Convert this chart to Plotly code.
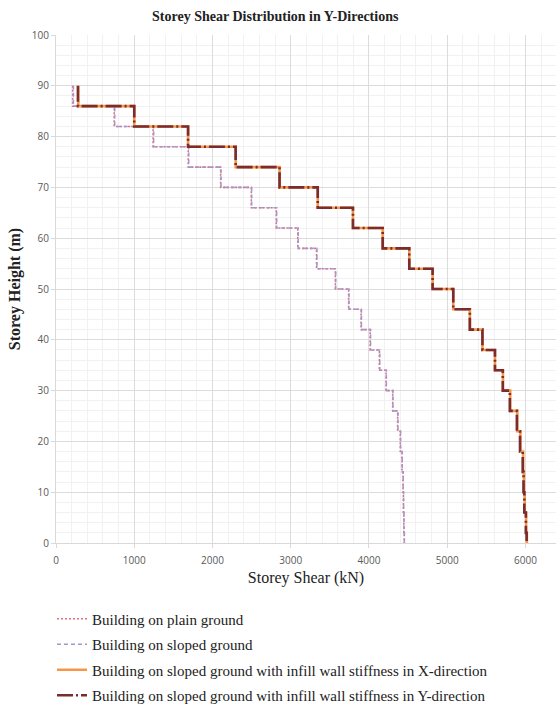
import plotly.graph_objects as go

# Storey levels (m): top of each storey interval, plus ground
storey_tops = [90, 86, 82, 78, 74, 70, 66, 62, 58, 54, 50, 46, 42, 38, 34, 30, 26, 22, 18, 14, 10, 6, 2]
ground = 0

# Storey shear (kN) for each interval, top to bottom
shear_plain = [213, 744, 1241, 1690, 2104, 2496, 2815, 3090, 3330, 3570, 3740, 3899, 4015,
               4133, 4218, 4303, 4366, 4400, 4422, 4435, 4440, 4445, 4450]
shear_sloped = [222, 750, 1248, 1696, 2108, 2500, 2820, 3095, 3334, 3574, 3744, 3903, 4020,
                4137, 4222, 4306, 4370, 4404, 4425, 4437, 4442, 4447, 4452]
shear_infill_x = [285, 1000, 1688, 2296, 2857, 3345, 3795, 4175, 4515, 4813, 5077, 5289, 5450,
                  5610, 5712, 5805, 5895, 5935, 5970, 5980, 5990, 6008, 6018]
shear_infill_y = [280, 1000, 1688, 2296, 2857, 3345, 3795, 4175, 4515, 4813, 5077, 5289, 5450,
                  5610, 5710, 5800, 5890, 5930, 5965, 5975, 5985, 6005, 6015]

x_ticks = [0, 1000, 2000, 3000, 4000, 5000, 6000]
y_ticks = [0, 10, 20, 30, 40, 50, 60, 70, 80, 90, 100]

names = [
    "Building on plain ground",
    "Building on sloped ground",
    "Building on sloped ground with infill wall stiffness in X-direction",
    "Building on sloped ground with infill wall stiffness in Y-direction",
]
series = [shear_plain, shear_sloped, shear_infill_x, shear_infill_y]
styles = [
    dict(color="#E0707C", width=1.6, dash="2px,2px"),
    dict(color="#A497CC", width=1.6, dash="4px,3px"),
    dict(color="#F79646", width=2.6, dash="solid"),
    dict(color="#7A2C2E", width=2.6, dash="16px,3px,2px,3px"),
]

fig = go.Figure()
ys = storey_tops + [ground]
for i, (nm, vals, st) in enumerate(zip(names, series, styles)):
    xs = vals + [vals[-1]]
    fig.add_trace(go.Scatter(
        x=xs, y=ys, mode="lines", name=nm, line=dict(shape="vh", **st),
        legendgroup=f"g{i}",
    ))

serif = "Liberation Serif"
sans = "Open Sans"

fig.update_layout(
    width=556, height=704,
    margin=dict(l=56, r=0, t=35, b=161, autoexpand=False),
    paper_bgcolor="white", plot_bgcolor="white",
    title=dict(text="<b>Storey Shear Distribution in Y-Directions</b>",
               x=0.495, xanchor="center", y=0.977, yanchor="middle",
               font=dict(family=serif, size=14, color="#222222")),
    showlegend=True,
    legend=dict(x=-0.008, xanchor="left", y=-0.117, yanchor="top",
                font=dict(family=serif, size=15, color="#222222"),
                tracegroupgap=3, bgcolor="rgba(0,0,0,0)"),
    xaxis=dict(range=[0, 6390], tickvals=x_ticks, ticks="outside", ticklen=4,
               tickcolor="#D9D9D9", showline=True, linecolor="#D9D9D9", linewidth=1,
               showgrid=True, gridcolor="#DCDCDC", gridwidth=1, zeroline=False,
               automargin=False, ticklabelstandoff=4,
               minor=dict(dtick=200, showgrid=True, gridcolor="#F1F1F1", gridwidth=1),
               tickfont=dict(family=sans, size=10, color="#595959"),
               title=dict(text="Storey Shear (kN)", standoff=5,
                          font=dict(family=serif, size=16, color="#222222"))),
    yaxis=dict(range=[0, 100], tickvals=y_ticks, ticks="outside", ticklen=4,
               tickcolor="#D9D9D9", showline=True, linecolor="#D9D9D9", linewidth=1,
               showgrid=True, gridcolor="#DCDCDC", gridwidth=1, zeroline=False,
               automargin=False,
               minor=dict(dtick=2, showgrid=True, gridcolor="#F1F1F1", gridwidth=1),
               tickfont=dict(family=sans, size=10, color="#595959"),
               title=dict(text="<b>Storey Height (m)</b>", standoff=7,
                          font=dict(family=serif, size=16, color="#222222"))),
)

fig.write_html("out.html", config={"displayModeBar": False},
               post_script="document.body.style.margin='0';")
